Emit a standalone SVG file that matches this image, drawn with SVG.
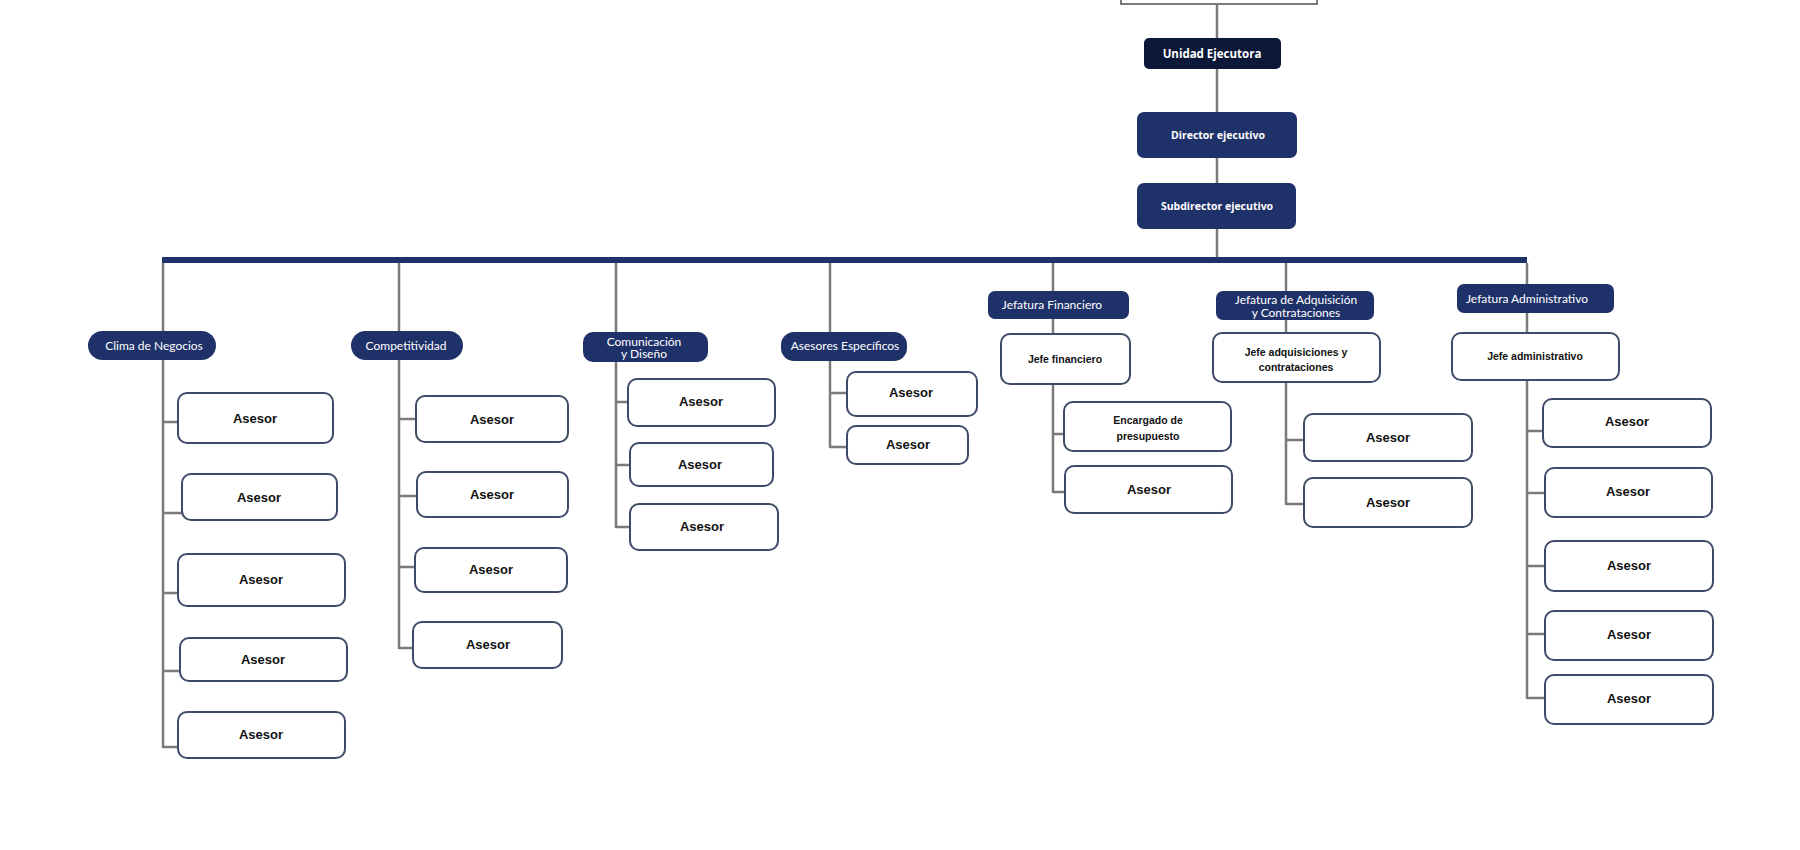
<svg xmlns="http://www.w3.org/2000/svg" width="1800" height="850" viewBox="0 0 1800 850">
<style>
.bg{fill:#ffffff}
.ln{stroke:#7a7a7a;stroke-width:2.5;fill:none}
.box{fill:#ffffff;stroke:#3e4a68;stroke-width:2}
.pill{fill:#1f3169}
.top{fill:#1f3169}
.topdark{fill:#0c1838}
.tw{font-family:"Open Sans","Noto Sans",sans-serif;font-weight:bold;fill:#ffffff;text-anchor:middle}
.pt{font-family:Lato,"Open Sans",sans-serif;font-size:12px;fill:#ffffff;text-anchor:middle}
.as{font-family:"Liberation Sans",Arial,sans-serif;font-weight:bold;font-size:13px;fill:#111111;text-anchor:middle}
.jt{font-family:"Liberation Sans",Arial,sans-serif;font-weight:bold;font-size:10.5px;fill:#111111;text-anchor:middle}
</style>
<rect class="bg" x="0" y="0" width="1800" height="850"/>
<g id="connectors">
<line class="ln" x1="1217" y1="4" x2="1217" y2="258"/>
<rect x="162" y="257" width="1365" height="6" fill="#1f3169"/>
<line class="ln" x1="163" y1="263" x2="163" y2="748"/>
<line class="ln" x1="399" y1="263" x2="399" y2="649"/>
<line class="ln" x1="616" y1="263" x2="616" y2="528"/>
<line class="ln" x1="830" y1="263" x2="830" y2="448"/>
<line class="ln" x1="1053" y1="263" x2="1053" y2="493"/>
<line class="ln" x1="1286" y1="263" x2="1286" y2="505"/>
<line class="ln" x1="1527" y1="263" x2="1527" y2="699"/>
<path class="ln" d="M163 422H178M163 513H182M163 593H178M163 671H180M163 747H178"/>
<path class="ln" d="M399 419H416M399 496H417M399 567H415M399 648H413"/>
<path class="ln" d="M616 402H628M616 465H630M616 527H630"/>
<path class="ln" d="M830 393H847M830 447H847"/>
<path class="ln" d="M1053 434H1064M1053 492H1065"/>
<path class="ln" d="M1286 440H1304M1286 504H1304"/>
<path class="ln" d="M1527 431H1543M1527 493H1545M1527 566H1545M1527 634H1545M1527 698H1545"/>
</g>
<g id="n-top"><rect x="1121" y="-10" width="196" height="14" fill="#ffffff" stroke="#7a7a7a" stroke-width="2"/></g>
<g id="n-unidad"><rect class="topdark" x="1144" y="38" width="137" height="31" rx="5"/><text class="tw" x="1212" y="58" font-size="11.5">Unidad Ejecutora</text></g>
<g id="n-director"><rect class="top" x="1137" y="112" width="160" height="46" rx="7"/><text class="tw" x="1218" y="139" font-size="10.5">Director ejecutivo</text></g>
<g id="n-subdirector"><rect class="top" x="1137" y="183" width="159" height="46" rx="7"/><text class="tw" x="1217" y="210" font-size="10.5">Subdirector ejecutivo</text></g>

<g id="n-clima"><rect class="pill" x="88" y="331" width="128" height="29" rx="14.5"/><text class="pt" x="154" y="350">Clima de Negocios</text></g>
<g id="n-comp"><rect class="pill" x="351" y="331" width="112" height="29" rx="14.5"/><text class="pt" x="406" y="350">Competitividad</text></g>
<g id="n-comun"><rect class="pill" x="583" y="332" width="125" height="30" rx="10"/><text class="pt" x="644" y="346" font-size="10">Comunicación</text><text class="pt" x="644" y="357.5" font-size="10">y Diseño</text></g>
<g id="n-asesp"><rect class="pill" x="781" y="332" width="126" height="29" rx="13"/><text class="pt" x="845" y="350">Asesores Específicos</text></g>
<g id="n-jfin"><rect class="pill" x="988" y="291" width="141" height="28" rx="7"/><text class="pt" x="1052" y="309">Jefatura Financiero</text></g>
<g id="n-jadq"><rect class="pill" x="1216" y="291" width="158" height="29" rx="7"/><text class="pt" x="1296" y="304">Jefatura de Adquisición</text><text class="pt" x="1296" y="317">y Contrataciones</text></g>
<g id="n-jadm"><rect class="pill" x="1457" y="284" width="157" height="29" rx="7"/><text class="pt" x="1466" y="303" style="text-anchor:start">Jefatura Administrativo</text></g>

<g id="n-c1"><rect class="box" x="178" y="393" width="155" height="50" rx="9"/><text class="as" x="255" y="423">Asesor</text></g>
<g id="n-c2"><rect class="box" x="182" y="474" width="155" height="46" rx="9"/><text class="as" x="259" y="502">Asesor</text></g>
<g id="n-c3"><rect class="box" x="178" y="554" width="167" height="52" rx="9"/><text class="as" x="261" y="584">Asesor</text></g>
<g id="n-c4"><rect class="box" x="180" y="638" width="167" height="43" rx="9"/><text class="as" x="263" y="664">Asesor</text></g>
<g id="n-c5"><rect class="box" x="178" y="712" width="167" height="46" rx="9"/><text class="as" x="261" y="739">Asesor</text></g>

<g id="n-p1"><rect class="box" x="416" y="396" width="152" height="46" rx="9"/><text class="as" x="492" y="424">Asesor</text></g>
<g id="n-p2"><rect class="box" x="417" y="472" width="151" height="45" rx="9"/><text class="as" x="492" y="499">Asesor</text></g>
<g id="n-p3"><rect class="box" x="415" y="548" width="152" height="44" rx="9"/><text class="as" x="491" y="574">Asesor</text></g>
<g id="n-p4"><rect class="box" x="413" y="622" width="149" height="46" rx="9"/><text class="as" x="488" y="649">Asesor</text></g>

<g id="n-m1"><rect class="box" x="628" y="379" width="147" height="47" rx="9"/><text class="as" x="701" y="406">Asesor</text></g>
<g id="n-m2"><rect class="box" x="630" y="443" width="143" height="43" rx="9"/><text class="as" x="700" y="469">Asesor</text></g>
<g id="n-m3"><rect class="box" x="630" y="504" width="148" height="46" rx="9"/><text class="as" x="702" y="531">Asesor</text></g>

<g id="n-e1"><rect class="box" x="847" y="372" width="130" height="44" rx="9"/><text class="as" x="911" y="397">Asesor</text></g>
<g id="n-e2"><rect class="box" x="847" y="426" width="121" height="38" rx="9"/><text class="as" x="908" y="449">Asesor</text></g>

<g id="n-jefefin"><rect class="box" x="1001" y="334" width="129" height="50" rx="9"/><text class="jt" x="1065" y="363">Jefe financiero</text></g>
<g id="n-encargado"><rect class="box" x="1064" y="402" width="167" height="49" rx="9"/><text class="jt" x="1148" y="424">Encargado de</text><text class="jt" x="1148" y="440">presupuesto</text></g>
<g id="n-f2"><rect class="box" x="1065" y="466" width="167" height="47" rx="9"/><text class="as" x="1149" y="494">Asesor</text></g>

<g id="n-jefeadq"><rect class="box" x="1213" y="333" width="167" height="49" rx="9"/><text class="jt" x="1296" y="356">Jefe adquisiciones y</text><text class="jt" x="1296" y="371">contrataciones</text></g>
<g id="n-a1"><rect class="box" x="1304" y="414" width="168" height="47" rx="9"/><text class="as" x="1388" y="442">Asesor</text></g>
<g id="n-a2"><rect class="box" x="1304" y="478" width="168" height="49" rx="9"/><text class="as" x="1388" y="507">Asesor</text></g>

<g id="n-jefeadm"><rect class="box" x="1452" y="333" width="167" height="47" rx="9"/><text class="jt" x="1535" y="360">Jefe administrativo</text></g>
<g id="n-d1"><rect class="box" x="1543" y="399" width="168" height="48" rx="9"/><text class="as" x="1627" y="426">Asesor</text></g>
<g id="n-d2"><rect class="box" x="1545" y="468" width="167" height="49" rx="9"/><text class="as" x="1628" y="496">Asesor</text></g>
<g id="n-d3"><rect class="box" x="1545" y="541" width="168" height="50" rx="9"/><text class="as" x="1629" y="570">Asesor</text></g>
<g id="n-d4"><rect class="box" x="1545" y="611" width="168" height="49" rx="9"/><text class="as" x="1629" y="639">Asesor</text></g>
<g id="n-d5"><rect class="box" x="1545" y="675" width="168" height="49" rx="9"/><text class="as" x="1629" y="703">Asesor</text></g>
</svg>
